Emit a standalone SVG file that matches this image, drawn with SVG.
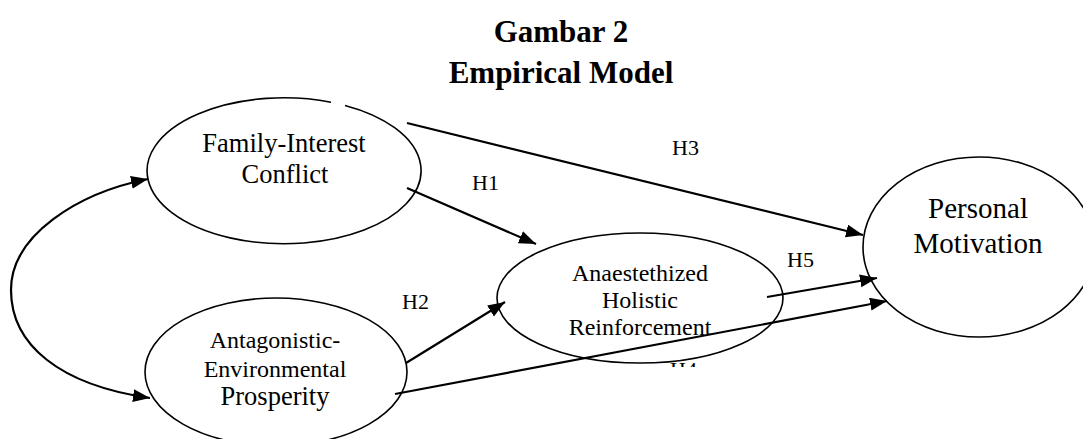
<svg xmlns="http://www.w3.org/2000/svg" width="1083" height="439" viewBox="0 0 1083 439">
<style>
.node{fill:none;stroke:#000;stroke-width:1.6}
.edge{fill:none;stroke:#000;stroke-width:2.2}
text{font-family:"Liberation Serif","Times New Roman",serif;fill:#000}
.t{text-anchor:middle}
.title{font-weight:bold;font-size:31px;text-anchor:middle}
.lbl{font-size:22px}
</style>
<defs>
<marker id="ah" markerUnits="userSpaceOnUse" markerWidth="18" markerHeight="14" refX="17" refY="6.5" orient="auto-start-reverse">
<path d="M0,0 L17,6.5 L0,13 z" fill="#000"/>
</marker>
<clipPath id="h4clip"><rect x="660" y="355" width="50" height="12"/></clipPath>
</defs>
<g id="title">
<text class="title" x="561" y="42">Gambar 2</text>
<text class="title" x="561" y="83">Empirical Model</text>
</g>
<g id="connectors">
<path class="edge" d="M148,179 C78,193 11,235 11,290 C11,345 60,385 150,398" marker-start="url(#ah)" marker-end="url(#ah)"/>
<path class="edge" d="M407,123 L863,235" marker-end="url(#ah)"/>
<path class="edge" d="M407,188 L536,244" marker-end="url(#ah)"/>
<path class="edge" d="M406,363 L505,302" marker-end="url(#ah)"/>
<path class="edge" d="M767,297 L877,278" marker-end="url(#ah)"/>
<path class="edge" d="M395,394 L887,301" marker-end="url(#ah)"/>
<text class="lbl" x="472" y="190">H1</text>
<text class="lbl" x="402" y="309">H2</text>
<text class="lbl" x="672" y="155">H3</text>
<text class="lbl" x="670" y="377" clip-path="url(#h4clip)">H4</text>
<text class="lbl" x="787" y="267">H5</text>
</g>
<g id="family">
<path class="node" d="M345,105.4 A137,73 0 1 1 331,102.2"/>
<text class="t" x="284" y="152" font-size="26.5">Family-Interest</text>
<text class="t" x="285" y="183" font-size="26.5">Conflict</text>
</g>
<g id="antagonistic">
<ellipse class="node" cx="276" cy="372" rx="131" ry="74"/>
<text class="t" x="275" y="348" font-size="24">Antagonistic-</text>
<text class="t" x="275" y="377" font-size="24">Environmental</text>
<text class="t" x="275" y="405" font-size="26.5">Prosperity</text>
</g>
<g id="anaesthetized">
<ellipse class="node" cx="640" cy="298" rx="143" ry="65"/>
<text class="t" x="640" y="281" font-size="24">Anaestethized</text>
<text class="t" x="640" y="308" font-size="24">Holistic</text>
<text class="t" x="640" y="335" font-size="24">Reinforcement</text>
</g>
<g id="personal">
<ellipse class="node" cx="979" cy="247" rx="116" ry="90"/>
<text class="t" x="978" y="218" font-size="29">Personal</text>
<text class="t" x="978" y="253" font-size="29">Motivation</text>
</g>
</svg>
